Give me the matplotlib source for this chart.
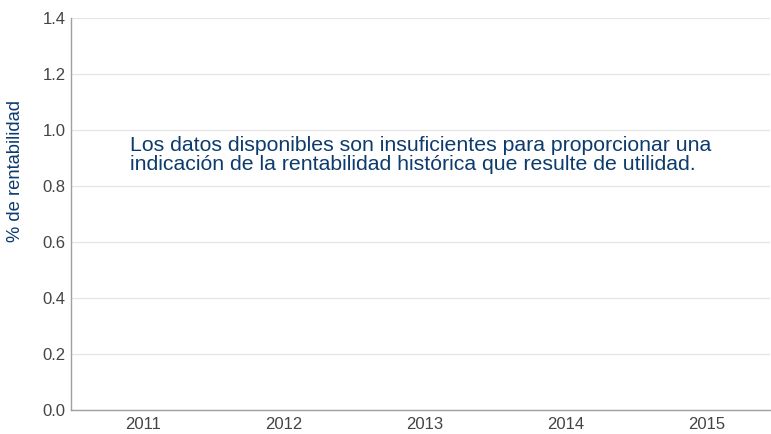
import matplotlib
matplotlib.use("Agg")
import matplotlib.pyplot as plt

years = ["2011", "2012", "2013", "2014", "2015"]
y_ticks = [0.0, 0.2, 0.4, 0.6, 0.8, 1.0, 1.2, 1.4]
y_label = "% de rentabilidad"
message_lines = ["Los datos disponibles son insuficientes para proporcionar una",
                 "indicación de la rentabilidad histórica que resulte de utilidad."]

plt.rcParams['font.family'] = ['Liberation Sans', 'DejaVu Sans']

W, H = 771, 434
fig = plt.figure(figsize=(W / 100, H / 100), dpi=100)
ax = fig.add_axes([71 / W, 1 - 410 / H, (770 - 71) / W, (410 - 18) / H])

ax.set_xlim(-0.51, len(years) - 0.55)
ax.set_ylim(0, 1.4)
ax.set_xticks(range(len(years)))
ax.set_xticklabels(years)
ax.set_yticks(y_ticks)
ax.set_yticklabels([f"{v:.1f}" for v in y_ticks])
ax.tick_params(axis='both', length=0, labelsize=12, colors='#444444')
ax.tick_params(axis='y', pad=4)
ax.tick_params(axis='x', pad=5)
ax.grid(axis='y', color='#e6e6e6', linewidth=1)
ax.set_axisbelow(True)
for s in ['top', 'right']:
    ax.spines[s].set_visible(False)
for s in ['left', 'bottom']:
    ax.spines[s].set_color('#a0a0a0')
    ax.spines[s].set_linewidth(1)

fig.text(16 / W, 1 - 171 / H, y_label, rotation=90, ha='center', va='center',
         fontsize=13.2, color='#0d3b6e')
baselines = [151, 170]
for line, yb in zip(message_lines, baselines):
    fig.text(130 / W, 1 - yb / H, line, ha='left', va='baseline',
             fontsize=15.35, color='#0d3b6e')

fig.savefig("out.png", dpi=100)
